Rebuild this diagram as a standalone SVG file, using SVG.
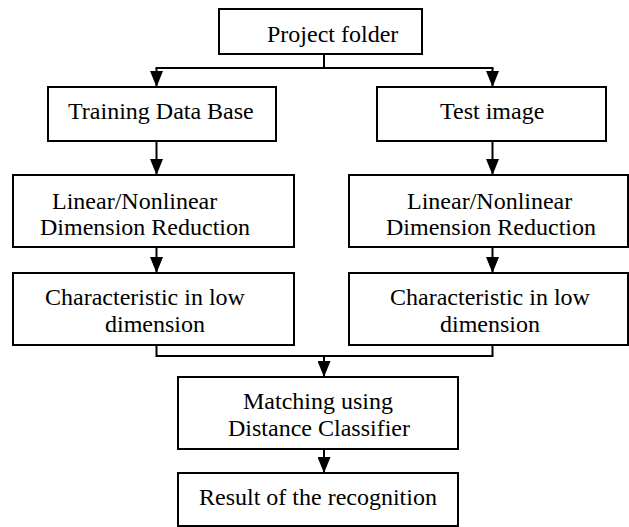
<svg xmlns="http://www.w3.org/2000/svg" width="629" height="527" viewBox="0 0 629 527" font-family="'Liberation Serif', 'DejaVu Serif', serif">
<style>
.box{fill:#fff;stroke:#000;stroke-width:2}
.lbl{font-family:'Liberation Serif','DejaVu Serif',serif;font-size:24px;fill:#000}
.con{fill:none;stroke:#000;stroke-width:2}
</style>
<defs>
<marker id="ah" markerUnits="userSpaceOnUse" viewBox="0 0 16 13" markerWidth="16" markerHeight="13" refX="16" refY="6.5" orient="auto">
<path d="M0,0 L16,6.5 L0,13 z" fill="#000"/>
</marker>
</defs>
<rect width="629" height="527" fill="#fff"/>
<g id="connectors">
<line class="con" x1="324" y1="54" x2="324" y2="68"/>
<line class="con" x1="155.5" y1="68" x2="493.5" y2="68"/>
<line class="con" x1="156.5" y1="68" x2="156.5" y2="87" marker-end="url(#ah)"/>
<line class="con" x1="492.5" y1="68" x2="492.5" y2="87" marker-end="url(#ah)"/>
<line class="con" x1="156.5" y1="141" x2="156.5" y2="175" marker-end="url(#ah)"/>
<line class="con" x1="492.5" y1="141" x2="492.5" y2="175" marker-end="url(#ah)"/>
<line class="con" x1="156.5" y1="247" x2="156.5" y2="273" marker-end="url(#ah)"/>
<line class="con" x1="492.5" y1="247" x2="492.5" y2="273" marker-end="url(#ah)"/>
<path class="con" d="M156.5,345 V356 H492.5 V345"/>
<line class="con" x1="324" y1="356" x2="324" y2="377" marker-end="url(#ah)"/>
<line class="con" x1="324" y1="449" x2="324" y2="473" marker-end="url(#ah)"/>
</g>
<g id="project-folder">
<rect class="box" x="219" y="9" width="203" height="45"/>
<text class="lbl" x="267" y="41.5">Project folder</text>
</g>
<g id="training-data-base">
<rect class="box" x="48" y="87" width="228" height="54"/>
<text class="lbl" x="68" y="119">Training Data Base</text>
</g>
<g id="test-image">
<rect class="box" x="377" y="87" width="229" height="54"/>
<text class="lbl" x="440" y="119">Test image</text>
</g>
<g id="reduction-left">
<rect class="box" x="13" y="175" width="281" height="72"/>
<text class="lbl" x="52" y="208.5">Linear/Nonlinear</text>
<text class="lbl" x="40" y="235">Dimension Reduction</text>
</g>
<g id="reduction-right">
<rect class="box" x="349" y="175" width="279" height="72"/>
<text class="lbl" x="407" y="208.5">Linear/Nonlinear</text>
<text class="lbl" x="386" y="235">Dimension Reduction</text>
</g>
<g id="characteristic-left">
<rect class="box" x="13" y="273" width="281" height="72"/>
<text class="lbl" x="45" y="305">Characteristic in low</text>
<text class="lbl" x="105" y="332">dimension</text>
</g>
<g id="characteristic-right">
<rect class="box" x="349" y="273" width="279" height="72"/>
<text class="lbl" x="390" y="305">Characteristic in low</text>
<text class="lbl" x="440" y="332">dimension</text>
</g>
<g id="matching">
<rect class="box" x="178" y="377" width="280" height="72"/>
<text class="lbl" x="243" y="409">Matching using</text>
<text class="lbl" x="228" y="436">Distance Classifier</text>
</g>
<g id="result">
<rect class="box" x="178" y="473" width="280" height="53"/>
<text class="lbl" x="199" y="505">Result of the recognition</text>
</g>
</svg>
